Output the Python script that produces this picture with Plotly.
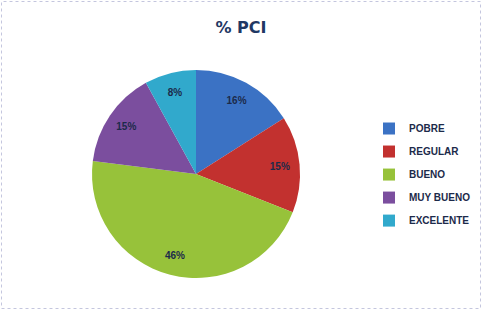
import plotly.graph_objects as go

labels = ["POBRE", "REGULAR", "BUENO", "MUY BUENO", "EXCELENTE"]
values = [16, 15, 46, 15, 8]
colors = ["#3b72c4", "#c2312f", "#97c23a", "#7b4e9e", "#31a9cc"]

W, H = 482, 310
dom = dict(x=[92 / W, 300 / W], y=[(H - 278) / H, (H - 70) / H])
text_color = "#1c2a4a"

# legend labels: small text inside a taller legend row (row height follows legend font size)
legend_labels = ["<span style='font-size:10px;baseline-shift:3px'>" + l + "</span>" for l in labels]

fig = go.Figure()
fig.add_trace(go.Pie(
    labels=legend_labels,
    values=values,
    sort=False,
    direction="clockwise",
    rotation=0,
    marker=dict(colors=colors, line=dict(width=0)),
    textinfo="none",
    domain=dom,
    showlegend=True,
    hoverinfo="percent",
))
# transparent ring on top that places the percent labels near the outer part of each slice
fig.add_trace(go.Pie(
    labels=legend_labels,
    values=values,
    sort=False,
    direction="clockwise",
    rotation=0,
    hole=0.62,
    marker=dict(colors=["rgba(0,0,0,0)"] * len(values), line=dict(width=0)),
    texttemplate="%{percent:.0%}",
    textposition="inside",
    insidetextorientation="horizontal",
    textfont=dict(family="Liberation Sans", size=10, color=text_color, weight="bold"),
    domain=dom,
    showlegend=False,
    hoverinfo="skip",
))

fig.update_layout(
    width=W, height=H,
    margin=dict(l=0, r=0, t=0, b=0),
    paper_bgcolor="white",
    plot_bgcolor="white",
    title=dict(text="% PCI", x=241 / W, xanchor="center", y=(H - 27) / H, yanchor="middle",
               font=dict(family="DejaVu Sans", size=16, color="#1f3864", weight="bold")),
    legend=dict(x=369 / W, xanchor="left", y=(H - 112) / H, yanchor="top",
                font=dict(family="Liberation Sans", size=15.4, color=text_color, weight="bold"),
                bgcolor="rgba(0,0,0,0)", itemwidth=30, traceorder="normal"),
    shapes=[dict(type="rect", xref="paper", yref="paper", x0=1.5 / W, x1=(W - 1.5) / W,
                 y0=1.5 / H, y1=(H - 1.5) / H,
                 line=dict(color="#c4c6de", width=1, dash="dot"))],
)

fig.write_html("out.html", config={"displayModeBar": False},
               post_script="document.body.style.margin='0';document.body.style.overflow='hidden';")
